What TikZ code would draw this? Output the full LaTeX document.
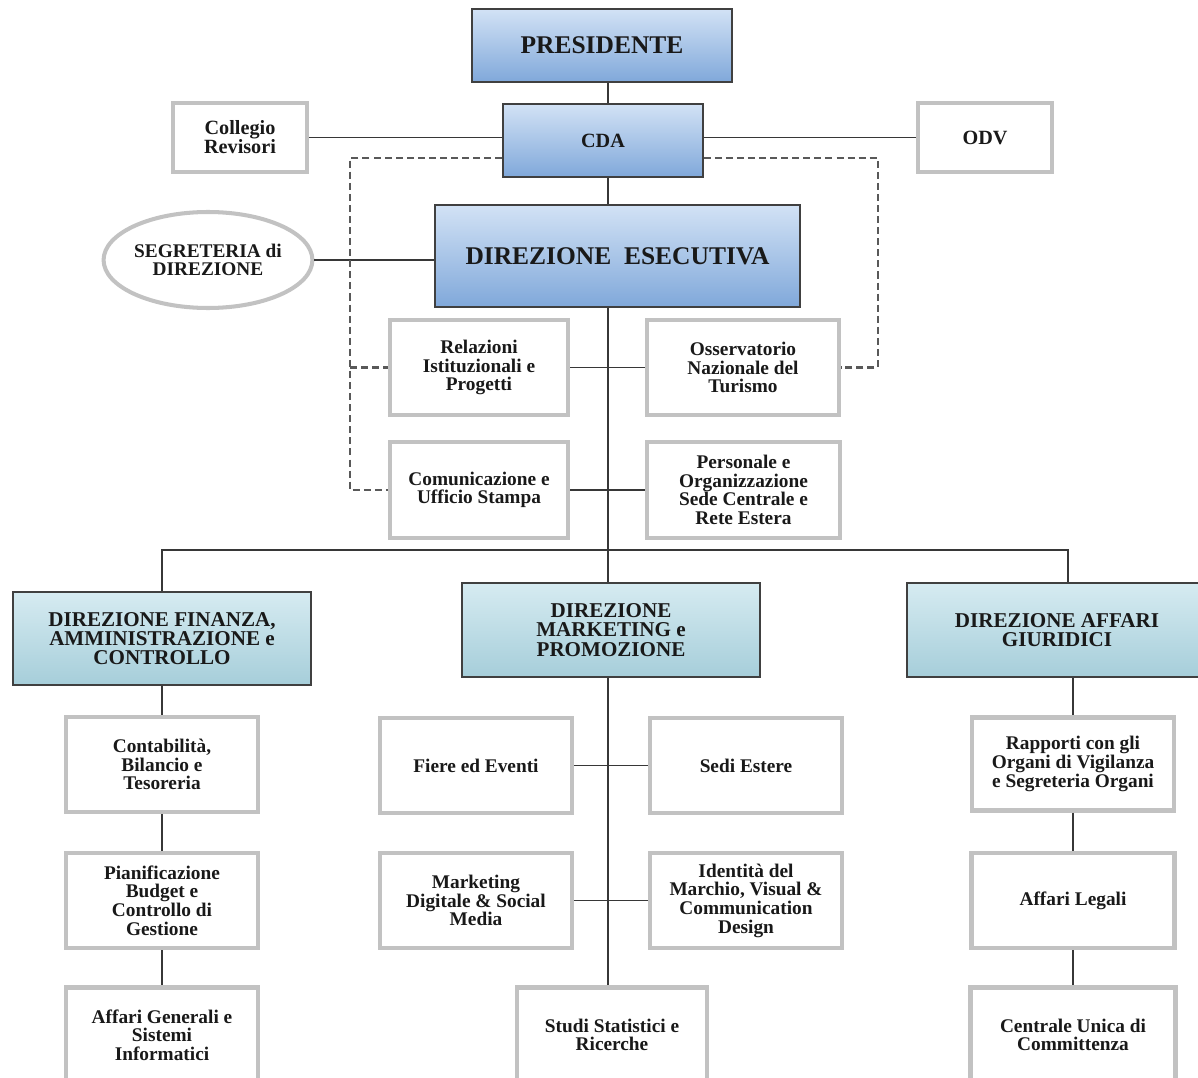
\documentclass[tikz,border=0pt]{standalone}
\usepackage{fontspec}
\setmainfont{Liberation Serif}
\usepackage{tikz}
\usetikzlibrary{shapes, calc, positioning}

\definecolor{bluetop}{RGB}{210,226,245}
\definecolor{bluebot}{RGB}{128,168,218}
\definecolor{tealtop}{RGB}{214,235,241}
\definecolor{tealbot}{RGB}{166,206,218}
\definecolor{boxgray}{RGB}{194,194,194}
\definecolor{linegray}{RGB}{55,55,55}

\tikzset{
  wh/.style 2 args={minimum width=#1*0.02cm, minimum height=#2*0.02cm},
  topbox/.style={draw=black!75, line width=0.8pt, top color=bluetop, bottom color=bluebot,
    inner sep=0pt, align=center, text=black!90, font=\bfseries\fontsize{14.5}{15}\selectfont},
  dirbox/.style={draw=black!75, line width=0.8pt, top color=tealtop, bottom color=tealbot,
    inner sep=0pt, align=center, text=black!90, font=\bfseries\fontsize{12}{11}\selectfont},
  unitbox/.style={draw=boxgray, line width=2.3pt, fill=white, inner sep=0pt, align=center,
    text=black!90, font=\bfseries\fontsize{11}{10.6}\selectfont},
  link/.style={draw=linegray, line width=0.9pt},
  dotlink/.style={draw=black!65, line width=1.2pt, dash pattern=on 4pt off 2.3pt},
}

\begin{document}
\begin{tikzpicture}[x=0.02cm, y=-0.02cm]
\clip (0,0) rectangle (1198,1078);

% vertice
\node[topbox, wh={260}{73}] (pres) at (602,45.5) {PRESIDENTE};
\node[topbox, wh={200}{73}, font=\bfseries\fontsize{11.5}{12}\selectfont] (cda) at (603,140.5) {CDA};
\node[unitbox, wh={134}{69}, font=\bfseries\fontsize{11.5}{10.8}\selectfont] (coll) at (240,137.5) {Collegio\\Revisori};
\node[unitbox, wh={134}{69}, font=\bfseries\fontsize{11.5}{12}\selectfont] (odv) at (985,137.5) {ODV};
\node[unitbox, ellipse, wh={208}{96}] (segr) at (208,260) {SEGRETERIA di\\DIREZIONE};
\node[topbox, wh={365}{102}] (dirEsec) at (617.5,256) {DIREZIONE\ \ ESECUTIVA};

% staff
\node[unitbox, wh={178}{95}] (rel) at (479,367.5) {Relazioni\\Istituzionali e\\Progetti};
\node[unitbox, wh={192}{95}] (oss) at (743,367.5) {Osservatorio\\Nazionale del\\Turismo};
\node[unitbox, wh={178}{96}] (com) at (479,490) {Comunicazione e\\Ufficio Stampa};
\node[unitbox, wh={193}{96}] (pers) at (743.5,490) {Personale e\\Organizzazione\\Sede Centrale e\\Rete Estera};

% direzioni
\node[dirbox, wh={298}{93}] (dirFin) at (162,638.5) {DIREZIONE FINANZA,\\AMMINISTRAZIONE e\\CONTROLLO};
\node[dirbox, wh={298}{94}] (dirMkt) at (611,630) {DIREZIONE\\MARKETING e\\PROMOZIONE};
\node[dirbox, wh={300}{94}] (dirAff) at (1057,630) {DIREZIONE AFFARI\\GIURIDICI};

% uffici
\node[unitbox, wh={192}{95}] (cont) at (162,764.5) {Contabilità,\\Bilancio e\\Tesoreria};
\node[unitbox, wh={192}{95}] (pian) at (162,900.5) {Pianificazione\\Budget e\\Controllo di\\Gestione};
\node[unitbox, wh={192}{95}] (affGen) at (162,1035) {Affari Generali e\\Sistemi\\Informatici};
\node[unitbox, wh={192}{95}] (fiere) at (476,765.5) {Fiere ed Eventi};
\node[unitbox, wh={192}{95}] (sedi) at (746,765.5) {Sedi Estere};
\node[unitbox, wh={192}{95}] (mktDig) at (476,900.5) {Marketing\\Digitale \& Social\\Media};
\node[unitbox, wh={192}{95}] (ident) at (746,900.5) {Identità del\\Marchio, Visual \&\\Communication\\Design};
\node[unitbox, wh={190}{95}] (studi) at (612,1035) {Studi Statistici e\\Ricerche};
\node[unitbox, wh={202}{93}] (rapp) at (1073,764) {Rapporti con gli\\Organi di Vigilanza\\e Segreteria Organi};
\node[unitbox, wh={203}{95}] (legali) at (1073,900.5) {Affari Legali};
\node[unitbox, wh={205}{95}] (centr) at (1073,1035) {Centrale Unica di\\Committenza};

% linee
\coordinate (bus) at (608,550);
\coordinate (busL) at (162,550);
\coordinate (busR) at (1068,550);
\coordinate (dashL) at (350,158);
\coordinate (dashR) at (878,158);

\draw[link] (pres.south -| bus) -- (cda.north -| bus);
\draw[link] (cda.south -| bus) -- (dirEsec.north -| bus);
\draw[link] (dirEsec.south -| bus) -- (bus) -- (dirMkt.north -| bus);
\draw[link] (busL |- dirFin.north) -- (busL) -- (busR) -- (busR |- dirAff.north);
\draw[link] (coll.east) -- (coll.east -| cda.west);
\draw[link] (odv.west) -- (odv.west -| cda.east);
\draw[link] (segr.east) -- (segr.east -| dirEsec.west);
\draw[link] (rel.east) -- (oss.west);
\draw[link] (com.east) -- (pers.west);

\draw[dotlink] (cda.west |- dashL) -- (dashL) -- (dashL |- com.west) -- (com.west);
\draw[dotlink] (dashL |- rel.west) -- (rel.west);
\draw[dotlink] (cda.east |- dashR) -- (dashR) -- (dashR |- oss.east) -- (oss.east);

\draw[link] (dirFin.south) -- (cont.north);
\draw[link] (cont.south) -- (pian.north);
\draw[link] (pian.south) -- (affGen.north);
\draw[link] (dirMkt.south -| bus) -- (studi.north -| bus);
\draw[link] (fiere.east) -- (sedi.west);
\draw[link] (mktDig.east) -- (ident.west);
\draw[link] (rapp.north |- dirAff.south) -- (rapp.north);
\draw[link] (rapp.south) -- (legali.north);
\draw[link] (legali.south) -- (centr.north);
\end{tikzpicture}
\end{document}
